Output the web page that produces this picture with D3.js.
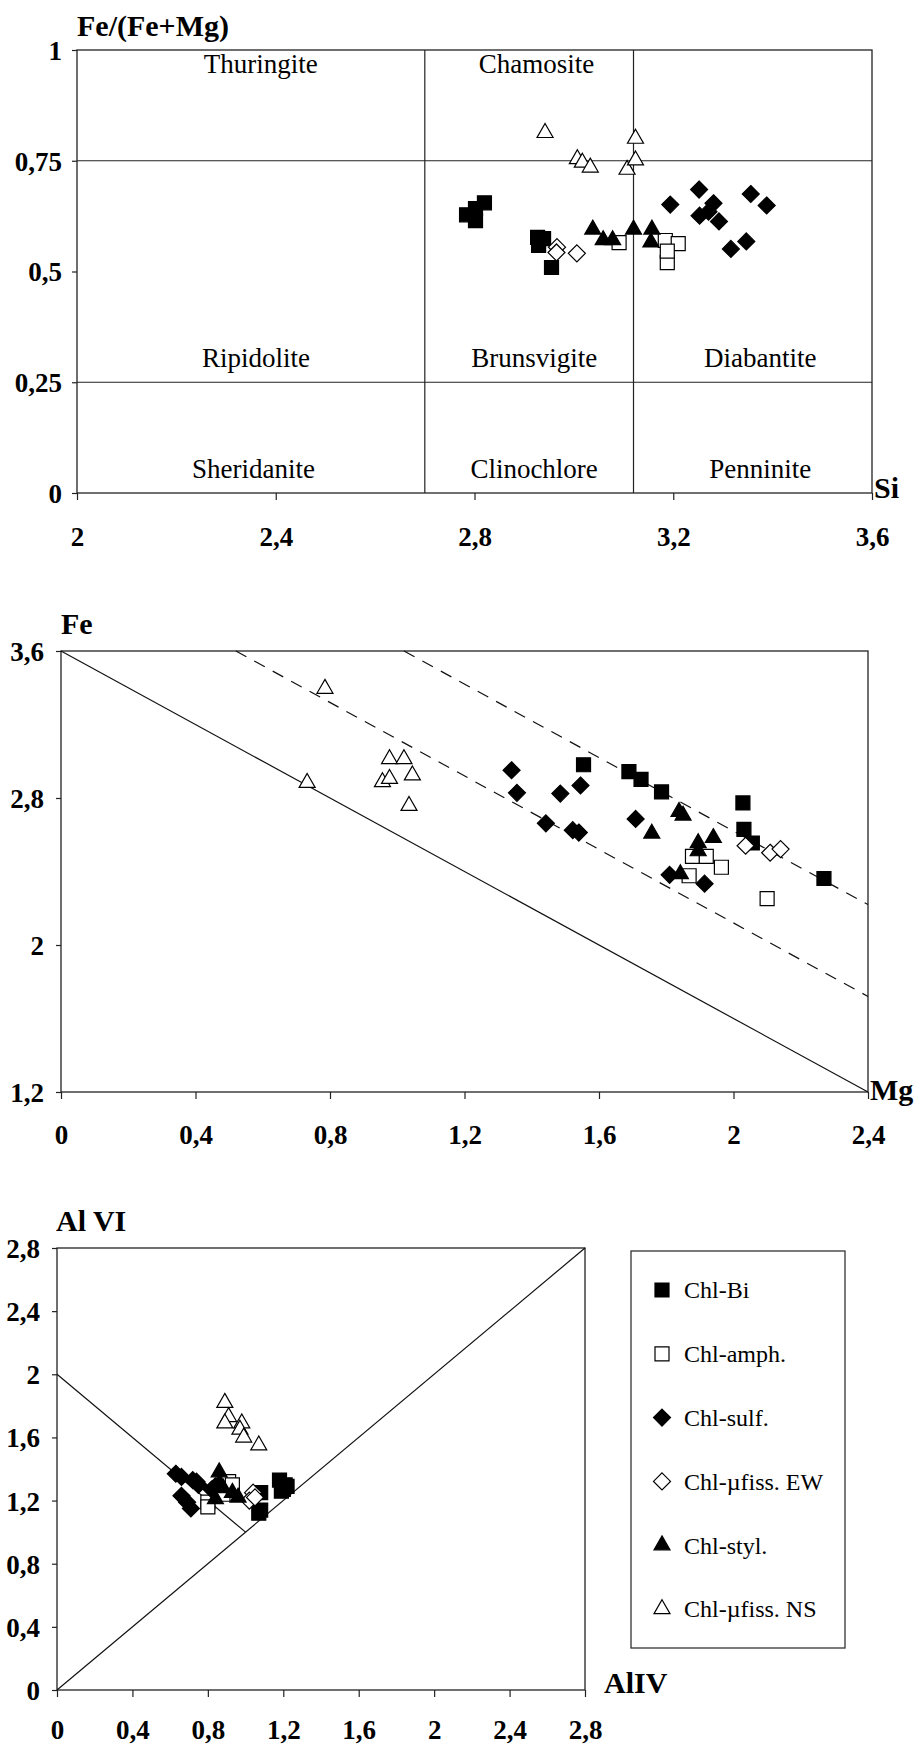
<!DOCTYPE html>
<html><head><meta charset="utf-8">
<script src="https://cdn.jsdelivr.net/npm/d3@7"></script>
<style>
body{margin:0;background:#fff;}
svg{display:block;}
text{font-family:"Liberation Serif","Times New Roman",serif;fill:#000;}
</style></head>
<body><div id="chart"></div>
<script>
// ---------- DATA ----------
// Series (legend order)
const seriesNames = ["Chl-Bi","Chl-amph.","Chl-sulf.","Chl-µfiss. EW","Chl-styl.","Chl-µfiss. NS"];

// Chart 1 : Si vs Fe/(Fe+Mg)
const hey_Bi   = [[2.784,0.628],[2.802,0.615],[2.820,0.655],[2.802,0.642],[2.929,0.559],[2.939,0.574],[2.955,0.509],[2.927,0.577]];
const hey_Amph = [[3.091,0.565],[3.184,0.570],[3.210,0.563],[3.188,0.520],[3.188,0.546]];
const hey_Sulf = [[3.194,0.651],[3.252,0.685],[3.281,0.654],[3.253,0.626],[3.271,0.635],[3.292,0.613],[3.356,0.675],[3.388,0.649],[3.316,0.551],[3.347,0.568]];
const hey_EW   = [[2.966,0.555],[2.965,0.543],[3.006,0.541]];
const hey_Styl = [[3.038,0.595],[3.059,0.571],[3.078,0.571],[3.120,0.595],[3.157,0.595],[3.155,0.566]];
const hey_NS   = [[2.942,0.813],[3.007,0.754],[3.017,0.746],[3.033,0.735],[3.107,0.730],[3.124,0.800],[3.124,0.751]];
const siTicks = [2,2.4,2.8,3.2,3.6];
const ratioTicks = [0,0.25,0.5,0.75,1];
const siBounds = [2.7,3.12];
const ratioBounds = [0.25,0.75];
const fieldNames = ["Thuringite","Chamosite","Ripidolite","Brunsvigite","Diabantite","Sheridanite","Clinochlore","Penninite"];
const fieldSi    = [2.37,2.925,2.36,2.92,3.375,2.355,2.92,3.375];
const fieldRatio = [0.948,0.948,0.284,0.284,0.284,0.034,0.034,0.034];

// Chart 2 : Mg vs Fe
const fm_Bi   = [[1.554,2.981],[1.689,2.944],[1.725,2.901],[1.786,2.833],[2.028,2.773],[2.031,2.629],[2.056,2.555],[2.269,2.362]];
const fm_Amph = [[1.878,2.482],[1.919,2.482],[1.964,2.423],[1.868,2.377],[2.100,2.252]];
const fm_Sulf = [[1.340,2.951],[1.356,2.828],[1.485,2.824],[1.545,2.868],[1.442,2.662],[1.522,2.625],[1.540,2.612],[1.709,2.686],[1.810,2.382],[1.914,2.334]];
const fm_EW   = [[2.036,2.540],[2.109,2.502],[2.140,2.522]];
const fm_Styl = [[1.838,2.725],[1.850,2.705],[1.757,2.607],[1.895,2.555],[1.940,2.583],[1.895,2.511],[1.842,2.386]];
const fm_NS   = [[0.785,3.395],[0.732,2.883],[0.977,3.012],[1.020,3.012],[0.956,2.887],[0.977,2.905],[1.045,2.924],[1.035,2.758]];
const mgTicks = [0,0.4,0.8,1.2,1.6,2,2.4];
const feTicks = [1.2,2,2.8,3.6];
const solidSum = 3.6;           // Fe + Mg
const dashedSums = [4.12,4.62]; // Fe + Mg

// Chart 3 : AlIV vs AlVI
const al_Bi   = [[1.18,1.33],[1.22,1.29],[1.19,1.26],[1.21,1.30],[1.08,1.14],[1.08,1.25],[1.07,1.12],[1.20,1.27]];
const al_Amph = [[0.91,1.32],[0.80,1.19],[0.80,1.16],[0.88,1.24],[0.93,1.30]];
const al_Sulf = [[0.63,1.37],[0.66,1.35],[0.74,1.32],[0.75,1.30],[0.66,1.23],[0.69,1.19],[0.71,1.15],[0.82,1.27],[0.84,1.29],[0.72,1.33]];
const al_EW   = [[1.04,1.25],[1.02,1.20],[1.05,1.22]];
const al_Styl = [[0.86,1.38],[0.86,1.31],[0.93,1.25],[0.84,1.21],[0.88,1.28],[0.96,1.22]];
const al_NS   = [[0.89,1.82],[0.91,1.73],[0.89,1.69],[0.98,1.69],[0.97,1.65],[0.99,1.60],[1.07,1.55]];
const alTicks = [0,0.4,0.8,1.2,1.6,2,2.4,2.8];
const diagLine = [[0,0],[2.8,2.8]];
const crossLine = [[0,2],[1,1]];

// ---------- DRAWING ----------
const W = 920, H = 1748;
const svg = d3.select("#chart").append("svg").attr("width",W).attr("height",H);
const fmt = d => String(d).replace(".", ",");

const styles = [
  {shape:"square", fill:"#000"},
  {shape:"square", fill:"#fff"},
  {shape:"diamond", fill:"#000"},
  {shape:"diamond", fill:"#fff"},
  {shape:"triangle", fill:"#000"},
  {shape:"triangle", fill:"#fff"}
];
function shapePath(shape){
  if(shape==="square"){const s=14;return `M${-s/2},${-s/2}h${s}v${s}h${-s}Z`;}
  if(shape==="diamond"){const r=8.5;return `M0,${-r}L${r},0L0,${r}L${-r},0Z`;}
  const w=16,h=w*0.87;return `M0,${-2*h/3}L${w/2},${h/3}L${-w/2},${h/3}Z`;
}

function frame(x,y,xt,yt,opts){
  const g = svg.append("g");
  const [x0,x1]=x.range(), [y0,y1]=y.range();
  const ax = g.append("g").attr("transform",`translate(0,${y0})`)
    .call(d3.axisBottom(x).tickValues(xt).tickFormat(fmt).tickSize(7).tickSizeOuter(0));
  ax.selectAll("text").attr("y",opts.xLabDy).attr("dy",null)
    .style("font-family","Liberation Serif").style("font-weight","bold").style("font-size","27px");
  const ay = g.append("g").attr("transform",`translate(${x0},0)`)
    .call(d3.axisLeft(y).tickValues(yt).tickFormat(fmt).tickSize(5).tickSizeOuter(0));
  ay.selectAll("text").attr("x",-opts.yLabDx).attr("dy","0.35em")
    .style("font-family","Liberation Serif").style("font-weight","bold").style("font-size","27px");
  g.selectAll(".domain").remove();
  g.selectAll(".tick line").attr("stroke","#222").attr("stroke-width",1.2);
  g.append("rect").attr("x",x0).attr("y",y1).attr("width",x1-x0).attr("height",y0-y1)
    .attr("fill","none").attr("stroke","#222").attr("stroke-width",1.3);
  return g;
}
function points(g,x,y,sets){
  sets.forEach((data,i)=>{
    const st = styles[i];
    g.append("g").selectAll("path").data(data).join("path")
      .attr("d",shapePath(st.shape))
      .attr("transform",d=>`translate(${x(d[0])},${y(d[1])})`)
      .attr("fill",st.fill).attr("stroke","#000").attr("stroke-width",1.2);
  });
}
function title(txt,x,y,anchor){
  svg.append("text").attr("x",x).attr("y",y).attr("text-anchor",anchor||"start")
    .style("font-weight","bold").style("font-size","30px").text(txt);
}

// ---- Chart 1
const x1 = d3.scaleLinear([2,3.6],[77,872]);
const y1 = d3.scaleLinear([0,1],[493,50]);
const g1 = frame(x1,y1,siTicks,ratioTicks,{xLabDy:53,yLabDx:15});
siBounds.forEach(v=>g1.append("line").attr("x1",x1(v)).attr("x2",x1(v)).attr("y1",y1(0)).attr("y2",y1(1))
  .attr("stroke","#222").attr("stroke-width",1.2));
ratioBounds.forEach(v=>g1.append("line").attr("x1",x1(2)).attr("x2",x1(3.6)).attr("y1",y1(v)).attr("y2",y1(v))
  .attr("stroke","#222").attr("stroke-width",1.2));
g1.selectAll("text.field").data(fieldNames).join("text").attr("class","field")
  .attr("x",(d,i)=>x1(fieldSi[i])).attr("y",(d,i)=>y1(fieldRatio[i]))
  .attr("text-anchor","middle").style("font-size","27px").text(d=>d);
points(g1,x1,y1,[hey_Bi,hey_Amph,hey_Sulf,hey_EW,hey_Styl,hey_NS]);
title("Fe/(Fe+Mg)",77,36);
title("Si",874,498);

// ---- Chart 2
const x2 = d3.scaleLinear([0,2.4],[61,868]);
const y2 = d3.scaleLinear([1.2,3.6],[1092,651]);
const g2 = frame(x2,y2,mgTicks,feTicks,{xLabDy:52,yLabDx:17});
const ln2 = d3.line().x(d=>x2(d[0])).y(d=>y2(d[1]));
g2.append("path").attr("d",ln2([[0,solidSum],[solidSum-1.2,1.2]])).attr("fill","none")
  .attr("stroke","#111").attr("stroke-width",1.2);
dashedSums.forEach(s=>{
  g2.append("path").attr("d",ln2([[s-3.6,3.6],[2.4,s-2.4]])).attr("fill","none")
    .attr("stroke","#111").attr("stroke-width",1.2).attr("stroke-dasharray","12,9");
});
points(g2,x2,y2,[fm_Bi,fm_Amph,fm_Sulf,fm_EW,fm_Styl,fm_NS]);
title("Fe",61,634);
title("Mg",870,1100);

// ---- Chart 3
const x3 = d3.scaleLinear([0,2.8],[57,585]);
const y3 = d3.scaleLinear([0,2.8],[1690,1248]);
const g3 = frame(x3,y3,alTicks,alTicks,{xLabDy:49,yLabDx:17});
const ln3 = d3.line().x(d=>x3(d[0])).y(d=>y3(d[1]));
[diagLine,crossLine].forEach(l=>g3.append("path").attr("d",ln3(l)).attr("fill","none")
  .attr("stroke","#111").attr("stroke-width",1.2));
points(g3,x3,y3,[al_Bi,al_Amph,al_Sulf,al_EW,al_Styl,al_NS]);
title("Al VI",56,1231);
title("AlIV",604,1693);

// Legend
const lg = svg.append("g");
lg.append("rect").attr("x",631).attr("y",1251).attr("width",214).attr("height",397)
  .attr("fill","#fff").attr("stroke","#333").attr("stroke-width",1.3);
const rowY = d3.scaleLinear([0,5],[1290,1609]);
seriesNames.forEach((n,i)=>{
  const st = styles[i];
  lg.append("path").attr("d",shapePath(st.shape)).attr("transform",`translate(662,${rowY(i)})`)
    .attr("fill",st.fill).attr("stroke","#000").attr("stroke-width",1.2);
  lg.append("text").attr("x",684).attr("y",rowY(i)).attr("dy","0.35em").style("font-size","24px").text(n);
});
</script></body></html>
